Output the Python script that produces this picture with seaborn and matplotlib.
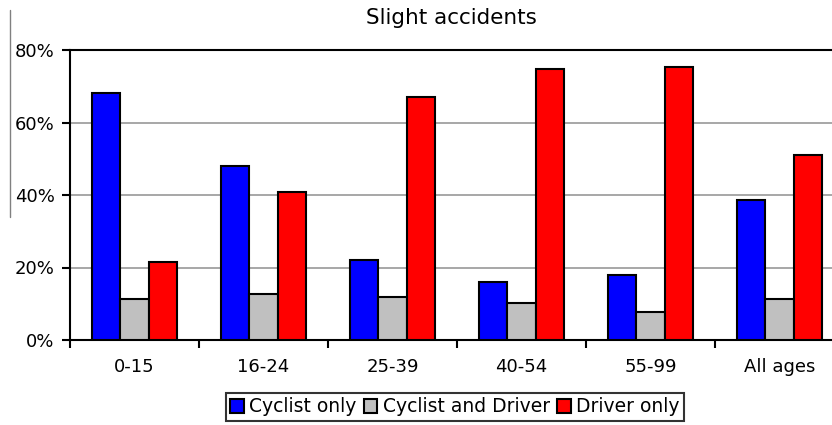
import pandas as pd
import matplotlib.pyplot as plt
import seaborn as sns
from matplotlib.lines import Line2D
from matplotlib.ticker import FixedLocator

age_groups = ["0-15", "16-24", "25-39", "40-54", "55-99", "All ages"]
cyclist_only = [68.2, 48.1, 22.1, 16.1, 17.9, 38.6]
cyclist_and_driver = [11.3, 12.6, 12.0, 10.2, 7.8, 11.3]
driver_only = [21.4, 40.9, 67.0, 74.7, 75.3, 51.0]
series_names = ["Cyclist only", "Cyclist and Driver", "Driver only"]
colors = ["#0000ff", "#c0c0c0", "#ff0000"]

rows = []
for name, vals in zip(series_names, [cyclist_only, cyclist_and_driver, driver_only]):
    for g, v in zip(age_groups, vals):
        rows.append({"Age": g, "Type": name, "Share": v})
df = pd.DataFrame(rows)

sns.set_style("white")
plt.rcParams["font.family"] = ["DejaVu Sans"]
plt.rcParams["text.color"] = "black"
plt.rcParams["xtick.color"] = "black"
plt.rcParams["ytick.color"] = "black"

fig = plt.figure(figsize=(8.32, 4.25), dpi=100)
ax = fig.add_axes([70 / 832, 85 / 425, 774 / 832, 290 / 425])

sns.barplot(data=df, x="Age", y="Share", hue="Type", palette=colors, saturation=1,
            width=0.66, edgecolor="black", linewidth=1.5, ax=ax,
            legend=True, zorder=3)

ax.set_ylim(0, 80)
ax.set_xlim(-0.5, 5.5)
ax.set_yticks([0, 20, 40, 60, 80])
ax.set_yticklabels([f"{t}%" for t in [0, 20, 40, 60, 80]], fontsize=13)
ax.set_xticks(range(len(age_groups)))
ax.set_xticklabels(age_groups, fontsize=13)
ax.xaxis.set_minor_locator(FixedLocator([i - 0.5 for i in range(7)]))
ax.tick_params(axis="x", which="major", length=0, pad=13)
ax.tick_params(axis="x", which="minor", length=6, width=1.5, color="black", direction="out", bottom=True)
ax.tick_params(axis="y", which="major", length=6, width=1.5, color="black", direction="out", left=True, pad=5)
ax.set_xlabel("")
ax.set_ylabel("")
ax.grid(axis="y", color="#a0a0a0", linewidth=1.3, zorder=0)
ax.set_axisbelow(True)
for side in ["left", "bottom", "top"]:
    ax.spines[side].set_color("black")
    ax.spines[side].set_linewidth(1.5)
ax.spines["right"].set_visible(False)

handles, labels = ax.get_legend_handles_labels()
ax.get_legend().remove()
leg = fig.legend(handles, labels, loc="center", bbox_to_anchor=(455 / 832, 1 - 407 / 425),
                 ncol=3, fontsize=13.5, frameon=True, fancybox=False, edgecolor="black",
                 handlelength=0.7, handleheight=0.7, handletextpad=0.3, columnspacing=0.4,
                 borderpad=0.25, borderaxespad=0)
leg.get_frame().set_linewidth(1.5)

fig.text(451 / 832, 1 - 18 / 425, "Slight accidents", ha="center", va="center", fontsize=15.5)
fig.add_artist(Line2D([10 / 832, 10 / 832], [1 - 10 / 425, 1 - 217 / 425], color="#808080", linewidth=1))

fig.savefig("out.png", dpi=100)
